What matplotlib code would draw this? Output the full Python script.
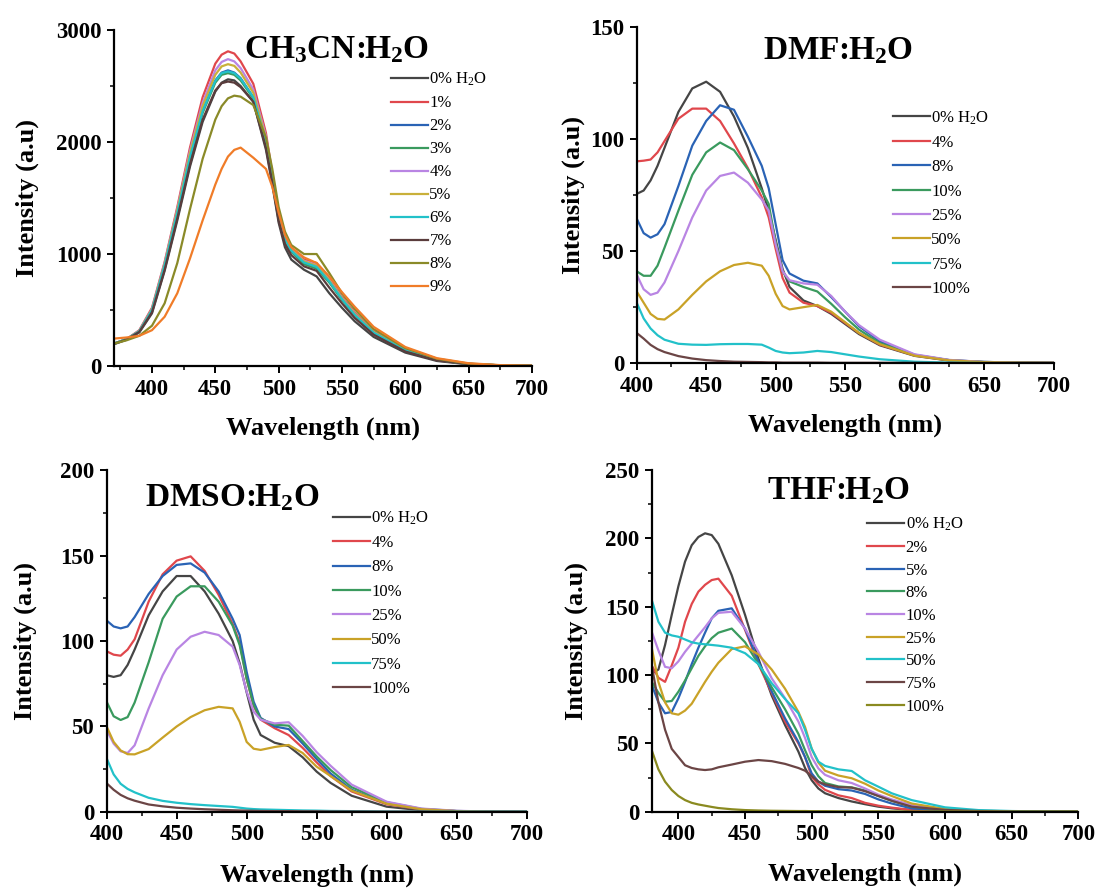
import matplotlib
matplotlib.use("Agg")
import matplotlib.pyplot as plt
from matplotlib.ticker import MultipleLocator

plt.rcParams['font.family'] = ['Liberation Serif', 'DejaVu Serif']
plt.rcParams['mathtext.fontset'] = 'custom'
plt.rcParams['mathtext.rm'] = 'Liberation Serif'
plt.rcParams['mathtext.bf'] = 'Liberation Serif:bold'
plt.rcParams['mathtext.it'] = 'Liberation Serif:italic'

# ---------------- Panel 1: CH3CN:H2O ----------------
wl1 = [370, 380, 390, 400, 410, 420, 430, 440, 450, 455, 460, 465, 470, 480, 490, 495,
       500, 505, 510, 520, 530, 540, 550, 560, 575, 600, 625, 650, 675, 700]
labels1 = ["0% H$_\\mathrm{2}$O", "1%", "2%", "3%", "4%", "5%", "6%", "7%", "8%", "9%"]
ch3cn_0 = [195, 235, 300, 470, 850, 1300, 1780, 2180, 2450, 2530, 2560, 2550, 2500, 2360, 1930, 1620,
           1280, 1060, 950, 860, 800, 650, 520, 400, 260, 120, 45, 15, 5, 2]
ch3cn_1 = [200, 240, 320, 520, 930, 1420, 1950, 2400, 2700, 2780, 2810, 2790, 2720, 2520, 2080, 1720,
           1360, 1140, 1040, 950, 920, 780, 620, 480, 310, 145, 58, 20, 6, 2]
ch3cn_2 = [200, 240, 310, 500, 900, 1370, 1870, 2280, 2550, 2620, 2640, 2620, 2570, 2400, 2000, 1680,
           1340, 1130, 1030, 930, 890, 760, 600, 460, 300, 140, 55, 19, 6, 2]
ch3cn_3 = [200, 240, 310, 500, 890, 1360, 1850, 2260, 2530, 2600, 2615, 2600, 2550, 2390, 1990, 1670,
           1330, 1120, 1020, 910, 870, 745, 590, 455, 295, 138, 54, 19, 6, 2]
ch3cn_4 = [200, 240, 315, 510, 920, 1400, 1920, 2350, 2640, 2715, 2740, 2720, 2660, 2470, 2050, 1700,
           1350, 1140, 1040, 940, 905, 770, 610, 470, 305, 143, 57, 20, 6, 2]
ch3cn_5 = [200, 240, 312, 505, 910, 1390, 1900, 2320, 2600, 2675, 2695, 2680, 2620, 2440, 2030, 1690,
           1345, 1135, 1035, 935, 895, 765, 605, 465, 302, 142, 56, 19, 6, 2]
ch3cn_6 = [200, 240, 310, 500, 900, 1370, 1865, 2275, 2545, 2615, 2630, 2615, 2565, 2400, 2000, 1680,
           1340, 1130, 1030, 925, 885, 755, 598, 458, 298, 140, 55, 19, 6, 2]
ch3cn_7 = [198, 237, 305, 480, 860, 1320, 1800, 2200, 2460, 2525, 2540, 2530, 2490, 2360, 1950, 1640,
           1300, 1090, 990, 890, 850, 700, 560, 430, 280, 130, 50, 17, 5, 2]
ch3cn_8 = [200, 230, 270, 360, 560, 920, 1400, 1850, 2200, 2320, 2390, 2414, 2405, 2330, 2040, 1760,
           1420, 1200, 1080, 1000, 1000, 830, 650, 510, 330, 160, 65, 22, 7, 2]
ch3cn_9 = [245, 255, 270, 320, 440, 650, 960, 1300, 1620, 1760, 1870, 1930, 1950, 1860, 1760, 1600,
           1370, 1170, 1060, 970, 920, 800, 660, 530, 350, 170, 70, 25, 8, 3]
series1 = [ch3cn_0, ch3cn_1, ch3cn_2, ch3cn_3, ch3cn_4, ch3cn_5, ch3cn_6, ch3cn_7, ch3cn_8, ch3cn_9]
colors1 = ['#454545', '#e0474c', '#2a63b5', '#3a9a5e', '#b985e3', '#c9b03a',
           '#22c1c9', '#5a3c3c', '#8a8a28', '#f07c28']

# ---------------- Panel 2: DMF:H2O ----------------
wl2 = [400, 405, 410, 415, 420, 430, 440, 450, 460, 470, 480, 490, 495, 500, 505, 510,
       520, 530, 540, 550, 560, 575, 600, 625, 650, 675, 700]
labels2 = ["0% H$_\\mathrm{2}$O", "4%", "8%", "10%", "25%", "50%", "75%", "100%"]
dmf_0 = [75.5, 77, 81.5, 88, 96, 112, 122.5, 125.5, 121, 110, 96, 78, 68, 55, 42, 34,
         28, 25.5, 22, 17.5, 13, 8, 3.3, 1.2, 0.5, 0.3, 0.2]
dmf_4 = [90, 90.3, 90.8, 94, 99, 109, 113.5, 113.5, 108, 98, 87, 74, 65, 51, 38, 31.5,
         27, 25.5, 22.5, 18, 13.5, 8.3, 3.5, 1.3, 0.5, 0.3, 0.2]
dmf_8 = [64.5, 58, 56, 57.5, 62, 79, 97, 108, 115, 113, 101, 88, 78, 62, 46, 40,
         36.8, 35.6, 29.5, 23, 16.5, 9.8, 3.8, 1.4, 0.6, 0.3, 0.2]
dmf_10 = [41, 39, 39, 43.5, 51.5, 68, 84, 94, 98.4, 95, 86.5, 77, 71, 54, 41, 36.5,
          34, 32, 26.5, 20.5, 15, 9, 3.6, 1.4, 0.6, 0.3, 0.2]
dmf_25 = [39.5, 33, 30.5, 31.5, 36, 50, 65, 77, 83.5, 85, 80.5, 73, 68, 53, 41, 37,
          35.6, 35, 30, 23, 17, 10.5, 4, 1.5, 0.6, 0.3, 0.2]
dmf_50 = [32, 27, 22, 19.8, 19.5, 24, 30.5, 36.5, 41, 43.8, 44.8, 43.5, 39, 31, 25.5, 24,
          25, 26, 23, 18.3, 13.5, 8.5, 3.4, 1.3, 0.5, 0.3, 0.2]
dmf_75 = [27, 20, 15.5, 12.5, 10.5, 8.7, 8.3, 8.2, 8.5, 8.6, 8.6, 8.3, 7, 5.5, 4.8, 4.5,
          4.8, 5.5, 5, 4, 3, 1.8, 0.7, 0.3, 0.1, 0.1, 0.1]
dmf_100 = [13.5, 11, 8.2, 6.3, 5, 3.2, 2.1, 1.4, 1, 0.7, 0.6, 0.5, 0.4, 0.4, 0.3, 0.3,
           0.3, 0.3, 0.2, 0.2, 0.2, 0.2, 0.2, 0.1, 0.1, 0.1, 0.1]
series2 = [dmf_0, dmf_4, dmf_8, dmf_10, dmf_25, dmf_50, dmf_75, dmf_100]

# ---------------- Panel 3: DMSO:H2O ----------------
wl3 = wl2
labels3 = labels2
dmso_0 = [80, 79, 80, 86, 95, 115, 129, 138, 138, 129, 116, 100, 87, 70, 54, 45,
          40.5, 38.5, 32, 23.6, 17, 9.5, 3.1, 1, 0.4, 0.2, 0.1]
dmso_4 = [94, 92, 91.4, 95, 101, 123, 139, 147, 149.5, 141, 127, 110, 99, 78, 62, 54,
          49, 45, 37.5, 29, 21, 12, 4.5, 1.5, 0.5, 0.2, 0.1]
dmso_8 = [112, 108.5, 107.4, 108.5, 114, 127.5, 138, 144.5, 145.4, 140, 129, 113, 103.5, 82, 64.5, 55,
          50, 48.5, 40, 31, 22.5, 13, 5, 1.6, 0.5, 0.2, 0.1]
dmso_10 = [64.5, 56, 53.8, 55.5, 64, 87.5, 113, 126, 132, 132, 123, 109, 97.6, 78, 62.6, 54.5,
           51, 50.5, 41.5, 32.5, 24.5, 14.5, 5.7, 1.8, 0.6, 0.2, 0.1]
dmso_25 = [48, 40, 35.5, 34.5, 39, 60.5, 80, 95, 102.5, 105.4, 103.5, 96.7, 86, 70.4, 58.7, 54,
           51.8, 52.5, 44.5, 35, 27, 16, 6, 2, 0.7, 0.2, 0.1]
dmso_50 = [50, 41, 36, 33.8, 33.7, 36.8, 43.5, 50, 55.5, 59.5, 61.5, 60.6, 52.8, 41, 37, 36.3,
           38, 39.2, 34.5, 26.5, 21, 12.5, 4.8, 1.6, 0.5, 0.2, 0.1]
dmso_75 = [31.4, 22, 16.5, 13.5, 11.5, 8.3, 6.5, 5.4, 4.6, 4, 3.5, 3, 2.5, 2, 1.7, 1.5,
           1.3, 1.1, 0.9, 0.8, 0.6, 0.5, 0.3, 0.2, 0.2, 0.2, 0.2]
dmso_100 = [16.8, 13, 10, 8, 6.6, 4.4, 3.3, 2.5, 2, 1.6, 1.3, 1, 0.9, 0.8, 0.7, 0.6,
            0.5, 0.5, 0.4, 0.4, 0.3, 0.3, 0.2, 0.2, 0.1, 0.1, 0.1]
series3 = [dmso_0, dmso_4, dmso_8, dmso_10, dmso_25, dmso_50, dmso_75, dmso_100]
colors23 = ['#454545', '#e0474c', '#2a63b5', '#3a9a5e', '#b985e3', '#c9a227', '#22c1c9', '#6b4545']

# ---------------- Panel 4: THF:H2O ----------------
wl4 = [380, 385, 390, 395, 400, 405, 410, 415, 420, 425, 430, 440, 450, 460, 470, 480,
       490, 495, 500, 505, 510, 520, 530, 540, 550, 560, 575, 600, 625, 650, 675, 700]
labels4 = ["0% H$_\\mathrm{2}$O", "2%", "5%", "8%", "10%", "25%", "50%", "75%", "100%"]
thf_0 = [101, 104, 122, 144, 165, 183, 195, 201, 203.7, 202.4, 196, 173, 144, 112, 85, 63.4,
         44, 32, 23, 17, 13.5, 10, 7.5, 5.5, 3.7, 2.5, 1.2, 0.5, 0.2, 0.1, 0.1, 0.1]
thf_2 = [107, 98, 95, 107, 120, 139, 152, 161, 166, 169.5, 170.5, 158, 133, 108, 87, 66,
         50, 40, 25.6, 20, 16, 12, 10, 6.5, 4.4, 3, 1.2, 0.5, 0.2, 0.1, 0.1, 0.1]
thf_5 = [93, 80, 72, 73, 83, 95, 108, 120, 131, 141.5, 147, 148.8, 134, 110, 88, 68.3,
         51, 40, 28, 22, 19, 16.5, 15.5, 13, 9, 6, 2.4, 1, 0.4, 0.2, 0.1, 0.1]
thf_8 = [95, 87, 80.5, 81, 87.8, 96, 105, 114, 121, 127, 131, 134, 124, 108, 91, 75,
         57, 45, 34, 26, 21, 18.5, 17.8, 15.5, 11.5, 8, 3.7, 1.3, 0.5, 0.2, 0.1, 0.1]
thf_10 = [131.7, 118, 106, 105, 110, 117, 123, 129, 135, 141.5, 145.5, 146.3, 134, 117, 97.6, 83,
          66, 54, 40, 31.7, 27, 23, 21, 17, 12.5, 9, 4.9, 2, 0.7, 0.3, 0.1, 0.1]
thf_25 = [120, 95, 80, 72, 71, 74, 79, 87, 95, 102.4, 109, 119, 121, 115, 104, 90,
          73, 62, 46, 36, 30, 26.5, 24.5, 20.5, 15.5, 11.5, 6, 2, 0.7, 0.3, 0.1, 0.1]
thf_50 = [155, 139, 131, 129, 128, 126, 124, 123, 122.5, 122, 121.5, 120, 116, 108, 94, 82.5,
          72, 60, 46, 36.6, 33.5, 31, 29.8, 23, 18.3, 13.5, 8.5, 3.2, 1.2, 0.5, 0.2, 0.1]
thf_75 = [107, 80, 60, 46, 40, 34, 32, 31, 30.5, 31, 32.5, 34.5, 36.6, 37.8, 37, 35,
          32, 30, 26, 22, 20, 18, 17.6, 15, 11.5, 8, 3.7, 1.3, 0.5, 0.2, 0.1, 0.1]
thf_100 = [45, 31, 22, 15.9, 11.5, 8.5, 6.5, 5.3, 4.4, 3.5, 2.7, 1.8, 1.2, 0.9, 0.7, 0.6,
           0.5, 0.5, 0.4, 0.4, 0.4, 0.3, 0.3, 0.3, 0.3, 0.2, 0.2, 0.2, 0.1, 0.1, 0.1, 0.1]
series4 = [thf_0, thf_2, thf_5, thf_8, thf_10, thf_25, thf_50, thf_75, thf_100]
colors4 = ['#454545', '#e0474c', '#2a63b5', '#3a9a5e', '#b985e3', '#c9a227',
           '#22c1c9', '#6b4545', '#8a8a20']

titles = ["CH$_\\mathbf{3}$CN:H$_\\mathbf{2}$O", "DMF:H$_\\mathbf{2}$O",
          "DMSO:H$_\\mathbf{2}$O", "THF:H$_\\mathbf{2}$O"]

fig = plt.figure(figsize=(10.97, 8.88), dpi=100)

panels = [
    # rect, wl, series, labels, colors, xlim, ylim, ymajor, title pos, legend pos, ylabel x, spacing
    ([0.1039, 0.5878, 0.3810, 0.3784], wl1, series1, labels1, colors1, (370, 700), (0, 3000), 1000,
     (0.533, 0.94), (0.663, 0.878), -0.18, 0.42),
    ([0.5804, 0.5909, 0.3800, 0.3790], wl2, series2, labels2, colors23, (400, 700), (0, 150), 50,
     (0.483, 0.93), (0.615, 0.755), -0.125, 0.5),
    ([0.0972, 0.0856, 0.3829, 0.3851], wl3, series3, labels3, colors23, (400, 700), (0, 200), 50,
     (0.298, 0.92), (0.539, 0.885), -0.165, 0.5),
    ([0.5941, 0.0859, 0.3889, 0.3848], wl4, series4, labels4, colors4, (380, 700), (0, 250), 50,
     (0.437, 0.94), (0.505, 0.866), -0.15, 0.4),
]

for i, (rect, wl, series, labels, colors, xlim, ylim, ymaj, tpos, lpos, ylx, lsp) in enumerate(panels):
    ax = fig.add_axes(rect)
    for s, lab, c in zip(series, labels, colors):
        ax.plot(wl, s, color=c, lw=1.6, label=lab)
    ax.set_xlim(*xlim)
    ax.set_ylim(*ylim)
    ax.xaxis.set_major_locator(MultipleLocator(50))
    ax.xaxis.set_minor_locator(MultipleLocator(25))
    ax.yaxis.set_major_locator(MultipleLocator(ymaj))
    ax.yaxis.set_minor_locator(MultipleLocator(ymaj / 2))
    for sp in ['top', 'right']:
        ax.spines[sp].set_visible(False)
    for sp in ['left', 'bottom']:
        ax.spines[sp].set_linewidth(1.6)
    ax.tick_params(which='major', direction='out', length=5, width=1.4, labelsize=16.5, pad=4)
    ax.tick_params(which='minor', direction='out', length=3, width=1.1)
    for t in ax.get_xticklabels() + ax.get_yticklabels():
        t.set_fontweight('bold')
    ax.set_xlabel("Wavelength (nm)", fontsize=19, fontweight='bold')
    ax.set_ylabel("Intensity (a.u)", fontsize=19, fontweight='bold')
    ax.xaxis.set_label_coords(0.5, -0.15)
    ax.yaxis.set_label_coords(ylx, 0.5)
    ax.text(tpos[0], tpos[1], titles[i], transform=ax.transAxes, ha='center', va='center',
            fontsize=24, fontweight='bold')
    ax.legend(loc='upper left', bbox_to_anchor=lpos, frameon=False, fontsize=12,
              handlelength=2.2, handletextpad=0.1, labelspacing=lsp, borderpad=0,
              borderaxespad=0)

fig.savefig("out.png", dpi=100)
